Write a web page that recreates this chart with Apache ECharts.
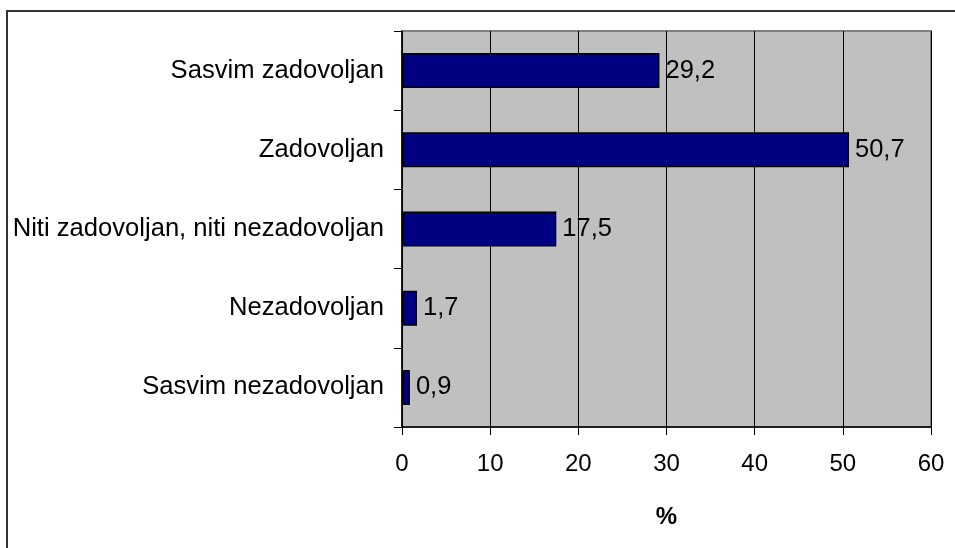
<!DOCTYPE html>
<html>
<head>
<meta charset="utf-8">
<script src="https://cdn.jsdelivr.net/npm/echarts@6/dist/echarts.min.js"></script>
<style>
  html, body { margin: 0; padding: 0; background: #fff; }
  #chart { width: 955px; height: 548px; }
</style>
</head>
<body>
<div id="chart"></div>
<script>
// top to bottom, as in the picture
const categories = [
  'Sasvim zadovoljan',
  'Zadovoljan',
  'Niti zadovoljan, niti nezadovoljan',
  'Nezadovoljan',
  'Sasvim nezadovoljan'
]
const values = [29.2, 50.7, 17.5, 1.7, 0.9]

const myChart = echarts.init(document.getElementById('chart'))
myChart.setOption({
  animation: false,
  textStyle: { fontFamily: '"Liberation Sans", Arial, sans-serif' },
  graphic: [
    {
      type: 'rect',
      shape: { x: 7, y: 11, width: 1000, height: 1000 },
      style: { fill: 'none', stroke: '#333', lineWidth: 2 },
      silent: true
    }
  ],
  grid: {
    left: 402,
    right: 24,
    top: 31,
    bottom: 121,
    show: true,
    backgroundColor: '#c0c0c0',
    borderColor: '#808080',
    borderWidth: 2
  },
  xAxis: {
    type: 'value',
    min: 0,
    max: 60,
    interval: 10,
    name: '%',
    nameLocation: 'middle',
    nameGap: 78,
    nameTextStyle: { color: '#000', fontSize: 24, fontWeight: 'bold' },
    axisLine: { show: true, lineStyle: { color: '#000', width: 1.5 } },
    axisTick: { show: true, length: 8, lineStyle: { color: '#000' } },
    axisLabel: { color: '#000', fontSize: 24, margin: 25 },
    splitLine: { show: true, lineStyle: { color: '#000', width: 1 } }
  },
  yAxis: {
    type: 'category',
    inverse: true,
    data: categories,
    axisLine: { show: true, lineStyle: { color: '#000', width: 1.5 } },
    axisTick: { show: true, length: 8, alignWithLabel: false, lineStyle: { color: '#000' } },
    axisLabel: { color: '#000', fontSize: 25.6, margin: 18 },
    splitLine: { show: false }
  },
  series: [
    {
      type: 'bar',
      data: values,
      barWidth: 35,
      itemStyle: { color: '#000080', borderColor: '#000', borderWidth: 1.5 },
      label: {
        show: true,
        position: 'right',
        distance: 6,
        color: '#000',
        fontSize: 25.5,
        formatter: p => String(p.value).replace('.', ',')
      }
    }
  ]
})
</script>
</body>
</html>
